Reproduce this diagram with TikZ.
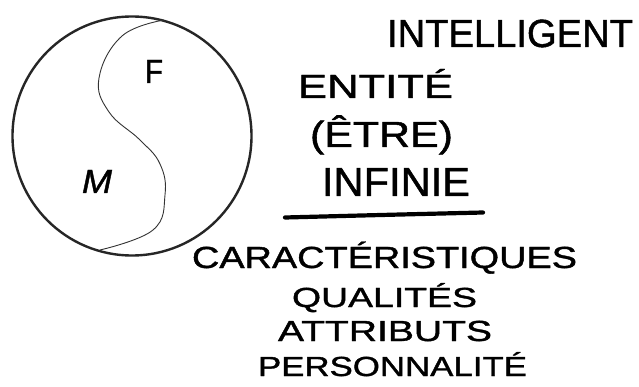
\documentclass[tikz,border=0pt]{standalone}
\usepackage{fontspec}
\usepackage{graphicx}
\setmainfont{Liberation Sans}[FakeBold=1.2]
\newlength\fitwd
\newlength\fitht
\newcommand\fittext[3]{\settowidth\fitwd{#3}\settoheight\fitht{H}%
  \pgfmathsetmacro\fitsx{#1/\fitwd}\pgfmathsetmacro\fitsy{#2/\fitht}%
  \scalebox{\fitsx}[\fitsy]{#3}}
\tikzset{
  word/.style={anchor=base west, inner sep=0pt, outer sep=0pt, text=black},
  ring/.style={line width=2.4pt, draw=black!85},
  divider/.style={line width=0.9pt, draw=black!80},
  rule/.style={line width=4.2pt, line cap=round, draw=black}
}
\begin{document}
\begin{tikzpicture}[x=1pt,y=-1pt]
\useasboundingbox (0,0) rectangle (639,387);
\fill[white] (0,0) rectangle (639,387);
% yin-yang like circle
\draw[ring] (132,136) circle[radius=119.5];
\draw[divider] plot[smooth, tension=0.7] coordinates {(164,20) (122,36) (99,78) (109,112) (140,140) (160,164) (165,195) (153,230) (100,250)};
\node[word] (f) at (145,83) {\fittext{18}{23}{F}};
\node[word] (m) at (82,193) {\fittext{30}{23}{\itshape M}};
% right side texts
\node[word] (intel) at (387,47) {\fittext{246}{27}{INTELLIGENT}};
\node[word] (entite) at (298,98) {\fittext{155}{23}{ENTITÉ}};
\node[word] (etre) at (310,147) {\fittext{143}{25}{(ÊTRE)}};
\node[word] (infinie) at (322,196) {\fittext{148}{28}{INFINIE}};
\draw[rule] (285,217.5) .. controls (380,215) .. (483,212.5);
\node[word] (carac) at (192,268) {\fittext{385}{21}{CARACTÉRISTIQUES}};
\node[word] (qual) at (292,307) {\fittext{185}{19}{QUALITÉS}};
\node[word] (attr) at (278,341) {\fittext{214}{20}{ATTRIBUTS}};
\node[word] (pers) at (258,376) {\fittext{269}{19}{PERSONNALITÉ}};
\end{tikzpicture}
\end{document}
